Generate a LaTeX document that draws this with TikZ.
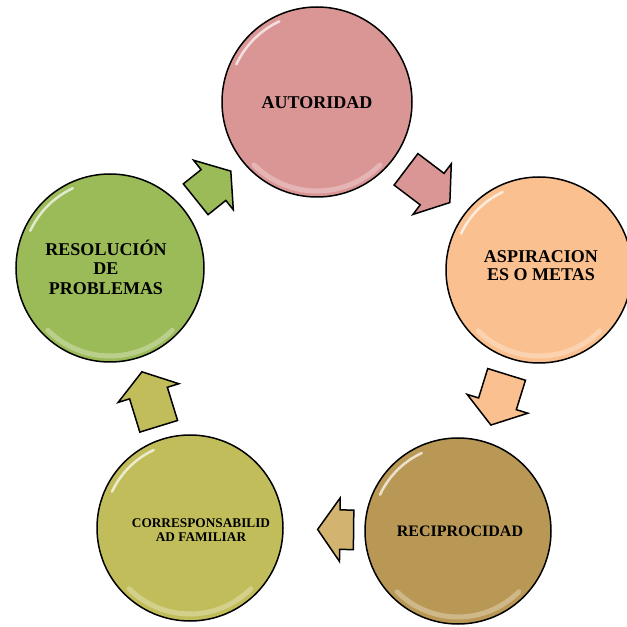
\documentclass[tikz,border=0pt]{standalone}
\usepackage{fontspec}
\setmainfont{Liberation Serif}
\usetikzlibrary{shapes.arrows}

\definecolor{autpink}{RGB}{217,150,148}
\definecolor{asppeach}{RGB}{250,192,143}
\definecolor{recgold}{RGB}{185,152,86}
\definecolor{recarrow}{RGB}{210,180,112}
\definecolor{corolive}{RGB}{193,189,90}
\definecolor{resgreen}{RGB}{155,187,89}

\begin{document}
\begin{tikzpicture}[x=1pt, y=1pt]
	\tikzset{bubble/.style={draw, circle, line width=1.5pt, minimum size=186pt, inner sep=0pt},
		caption/.style={align=center, font=\bfseries\fontsize{18}{18}\selectfont},
		turn/.style={draw, single arrow, line width=1.5pt, inner xsep=0pt, inner ysep=19pt,
			single arrow head extend=12pt, single arrow tip angle=110, sloped, allow upside down, pos=.41},
		glow/.style={white, line width=2.5pt, opacity=.7, line cap=round},
		rim/.style={white, line width=5pt, opacity=.3, line cap=round}
	}
	\useasboundingbox (0,0) rectangle (627,627);

	% the five circles
	\node [bubble, fill=autpink, minimum size=190pt] (aut) at (317,525) {};
	\node [bubble, fill=asppeach] (asp) at (539,357) {};
	\node [bubble, fill=recgold] (rec) at (458,96) {};
	\node [bubble, fill=corolive] (cor) at (190,99) {};
	\node [bubble, fill=resgreen, minimum size=188pt] (res) at (110,359) {};

	\foreach \n/\r in {aut/89, asp/86, rec/86, cor/86, res/88} {
		\draw [glow] ([shift={(115:\r pt)}]\n.center) arc [start angle=115, end angle=155, radius=\r pt];
		\draw [rim] ([shift={(225:\r pt)}]\n.center) arc [start angle=225, end angle=315, radius=\r pt];
	}

	% texts
	\node [caption] (auttext) at ([yshift=-1pt]aut) {AUTORIDAD};
	\node [caption] (asptext) at ([xshift=2pt, yshift=4pt]asp) {ASPIRACION\\ES O METAS};
	\node [caption, font=\bfseries\fontsize{18}{19.5}\selectfont] (restext) at ([xshift=-4pt, yshift=1pt]res) {RESOLUCIÓN\\DE\\PROBLEMAS};
	\node [caption, font=\bfseries\fontsize{16}{16}\selectfont] (rectext) at ([xshift=2pt]rec) {RECIPROCIDAD};
	\node [caption, font=\bfseries\fontsize{13.3}{14}\selectfont] (cortext) at ([xshift=11pt, yshift=-2.5pt]cor) {CORRESPONSABILID\\AD FAMILIAR};

	% arrows between circles
	\path (aut) -- node [turn, fill=autpink, minimum height=55pt] (autasp) {} (asp);
	\path (asp) -- node [turn, fill=asppeach, minimum height=53pt] (asprec) {} (rec);
	\path (rec) -- node [turn, fill=recarrow, minimum height=36pt, pos=.27] (reccor) {} (cor);
	\path (cor) -- node [turn, fill=corolive, minimum height=57pt] (corres) {} (res);
	\path (res) -- node [turn, fill=resgreen, minimum height=45pt] (resaut) {} (aut);

\end{tikzpicture}
\end{document}
